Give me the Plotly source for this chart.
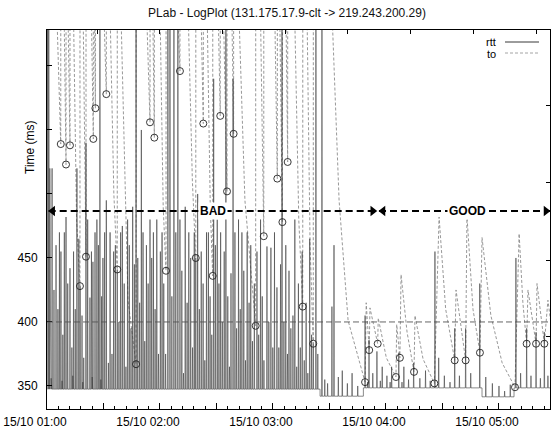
import pandas as pd
import plotly.graph_objects as go

# ---------------- data (minutes after 15/10 01:00, value in ms) ----------------
START = "2008-10-15 01:00:00"
x_range_min = [0.0, 267.1]
y_range_ms = [332.0, 628.1]
SAMPLE_MIN = 0.15          # rtt sampling interval (~10 s)

# rtt spikes: (minute, peak ms)
rtt_spikes_a = [(0.3,700),(0.9,700),(1.5,520),(2.2,356),(2.7,520),(3.7,425),(4.8,460),(5.8,410),(6.6,470),(7.4,455),
                (8.0,354),(8.4,390),(9.2,470),(10.1,482),(11.0,430),(12.2,442),(13.2,380),(13.7,358),(14.1,455),(15.0,410),
                (15.9,520),(16.9,465),(17.6,428),(18.6,405),(19.0,353),(19.5,372),(20.7,540),(21.6,480),(22.8,419),(23.6,455),
                (24.0,357),(24.4,447),(25.5,470),(26.5,480),(27.3,460),(28.1,700),(28.6,355),(29.0,420),(29.7,450)]
rtt_spikes_b = [(30.6,470),(31.5,495),(32.6,368),(33.5,470),(34.5,375),(35.4,455),(36.3,460),(37.3,441),(38.2,400),(39.1,470),
                (40.0,475),(41.0,430),(41.9,365),(42.8,480),(43.7,460),(44.6,395),(45.5,490),(46.4,445),(47.3,700),(48.2,450),
                (49.2,415),(50.1,550),(51.0,470),(51.9,385),(52.8,460),(53.7,430),(54.7,480),(55.6,450),(56.5,470),(57.4,410),
                (58.3,480),(59.2,375)]
rtt_spikes_c = [(60.2,455),(61.1,470),(62.0,430),(63.0,375),(64.2,700),(65.3,700),(66.3,420),(67.4,700),(68.4,470),(69.5,700),
                (70.6,480),(71.6,440),(72.5,360),(73.4,490),(74.4,415),(75.3,470),(76.3,450),(77.3,380),(78.2,470),(79.0,450),
                (80.0,500),(80.9,410),(81.9,455),(82.9,430),(83.8,370),(84.7,470),(85.7,470),(86.6,420),(87.5,390),(88.5,590),
                (89.4,460)]
rtt_spikes_d = [(90.4,480),(91.3,430),(92.2,470),(93.1,400),(94.1,455),(95.0,700),(96.0,420),(96.9,365),(97.7,438),(98.8,590),
                (99.8,470),(100.7,395),(101.7,480),(102.6,410),(103.5,470),(104.5,440),(105.4,370),(106.3,470),(107.3,415),(108.2,460),
                (109.1,385),(110.1,430),(111.5,455),(112.4,390),(113.4,480),(114.3,420),(115.2,370),(116.8,459),(117.8,400),(118.9,458),
                (119.9,380)]
rtt_spikes_e = [(120.8,470),(122.1,427),(123.1,380),(124.0,445),(124.8,700),(125.8,400),(126.8,460),(127.7,375),(128.5,440),(129.5,395),
                (130.6,405),(131.6,480),(132.6,365),(133.5,430),(134.5,380),(135.5,455),(136.6,370),(137.6,415),(138.5,360),(139.5,465),
                (140.5,390),(141.4,383),(142.8,700),(143.8,375)]
rtt_spikes_f = [(146.0,700),(147.5,355),(149.0,352),(151.3,412),(152.4,460),(154.7,357),(156.8,362),(159.5,352),(162.0,360),(165.0,350)]
rtt_spikes_g = [(168.9,405),(170.2,353),(171.0,386),(173.0,360),(175.2,377),(177.0,354),(178.0,365),(180.5,358),(182.2,353),(183.0,365),
                (186.8,376),(188.5,353),(189.5,365),(192.0,355),(194.7,368),(198.0,356),(201.0,362),(203.5,354),(206.0,455),(208.0,372),
                (211.0,358),(214.0,353),(216.5,395),(219.0,358),(222.3,395),(225.0,360),(229.8,430),(233.0,357),(236.5,352),(240.0,350),
                (243.0,346),(246.0,351),(249.0,450),(251.5,360),(254.7,395),(257.0,358),(259.7,392),(262.0,356),(264.1,392),(266.0,358)]

# rtt baseline level per stretch: start minute, end minute, ms
base_start_min = [0.0, 145.0, 168.0, 231.0, 248.0]
base_end_min = [145.0, 168.0, 231.0, 248.0, 267.5]
base_ms = [347.5, 342.0, 348.5, 341.5, 348.5]

# timeout estimate samples: (minute, ms)
to_bad = [(0.1,1400),(5.5,628),(7.3,539),
          (7.4,1300),(9.2,628),(10.1,523),
          (10.2,1300),(11.3,628),(12.2,538),
          (12.3,1300),(14.2,628),(15.7,480),(17.5,428),
          (17.6,1300),(19.3,628),(20.7,451),
          (20.8,1300),(23.7,628),(24.6,543),
          (24.7,1300),(25.3,628),(25.7,567),
          (25.8,1300),(30.5,628),(31.5,578),
          (31.6,1300),(33.7,628),(35.5,500),(37.3,441),
          (37.4,1300),(39.5,628),(43.0,417),(47.3,367),
          (47.4,1300),(53.2,628),(54.7,556),
          (54.8,1300),(56.3,628),(57.0,544),
          (57.1,1300),(60.2,628),(61.7,490),(63.2,440),
          (63.3,1300),(69.9,628),(70.6,596),
          (70.7,1300),(75.2,628),(77.2,510),(79.0,450),
          (79.1,1300),(82.0,628),(83.0,555),
          (83.1,1300),(85.2,628),(86.7,490),(88.0,436),
          (88.1,1300),(91.1,628),(92.0,561),
          (92.1,1300),(93.9,628),(95.6,502),
          (95.7,1300),(98.3,628),(99.1,547),
          (99.2,1300),(102.2,628),(105.1,495),(110.8,397),
          (110.9,1300),(113.5,628),(115.1,467),
          (115.2,1300),(121.1,628),(122.3,512),
          (122.4,1300),(123.7,628),(125.0,478),
          (125.1,1300),(127.0,628),(127.8,525),
          (127.9,1300),(131.7,628),(133.7,480),(135.8,412),
          (135.9,1300),(138.2,628),(139.7,460),(141.4,383),
          (141.5,1500),(151.7,628),(155.1,495),(159.9,401),(168.9,353)]
to_good = [(169.5,415),(171.1,378),(171.5,411),(175.6,383),(175.9,403),(180.2,372),(185.3,357),
           (185.7,398),(187.4,372),(188.0,437),(191.2,392),(194.9,361),(195.4,405),(199.7,371),(205.7,352),
           (208.2,482),(211.7,410),(216.5,370),(217.2,425),(222.3,370),(223.0,483),(226.2,410),(229.9,376),
           (231.0,466),(235.7,405),(241.7,368),(248.5,349),(250.7,469),(252.7,415),(254.7,383),
           (255.4,425),(259.7,383),(260.2,430),(264.1,383),(266.0,417),(267.5,400)]

# timeout events (circles)
circ_min = [7.3,10.1,12.2,17.5,20.7,24.6,25.7,31.5,37.3,47.3,54.7,57.0,63.2,70.6,79.0,83.0,88.0,92.0,95.6,99.1,
            110.8,115.1,122.3,125.0,127.8,135.8,141.4,168.9,171.1,175.6,185.3,187.4,194.9,205.7,216.5,222.3,229.9,
            248.5,254.7,259.7,264.1]
circ_ms = [539,523,538,428,451,543,567,578,441,367,556,544,440,596,450,555,436,561,502,547,
           397,467,512,478,525,412,383,353,378,383,357,372,361,352,370,370,376,
           349,383,383,383]

# periods
period_names = ["BAD", "GOOD"]
period_start_min = [0.9, 176.3]
period_end_min = [175.1, 267.1]
period_label_min = [88.1, 223.5]
period_level_ms = 486.7

# axes ticks
xtick_min = [0, 30, 60, 90, 120, 150, 180, 210, 240]
xtick_text = ["15/10 01:00", "", "15/10 02:00", "", "15/10 03:00", "", "15/10 04:00", "", "15/10 05:00"]
x2tick_min = [26.7, 60.0, 93.3, 126.6, 159.8, 193.1, 226.4, 259.7]
ytick_ms = [350, 400, 450, 500, 550, 600]
ytick_text = ["350", "400", "450", "", "", ""]
y2tick_ms = [388.3, 448.4, 508.6, 568.75]
threshold_ms = 400

# ---------------- figure ----------------
T0 = pd.Timestamp(START)
def to_time(mins):
    return T0 + pd.to_timedelta(list(mins), unit="min")

# rtt polyline: baseline samples around each spike sample
all_spikes = sorted(rtt_spikes_a + rtt_spikes_b + rtt_spikes_c + rtt_spikes_d +
                    rtt_spikes_e + rtt_spikes_f + rtt_spikes_g)
rtt_pts = []
for s, e, b in zip(base_start_min, base_end_min, base_ms):
    rtt_pts.append((s, b))
    for t, v in all_spikes:
        if s <= t < e:
            rtt_pts += [(t - SAMPLE_MIN, b), (t, v), (t + SAMPLE_MIN, b)]
    rtt_pts.append((e, b))

to_pts = to_bad + to_good

FONT = "Liberation Sans, Arial, sans-serif"
fig = go.Figure()

fig.add_trace(go.Scatter(
    x=to_time(p[0] for p in to_pts), y=[p[1] for p in to_pts], mode="lines",
    line=dict(color="#8c8c8c", width=0.9, dash="3px,2px"), name="to", showlegend=False,
    hoverinfo="skip"))
fig.add_trace(go.Scatter(
    x=to_time(p[0] for p in rtt_pts), y=[p[1] for p in rtt_pts], mode="lines",
    line=dict(color="#3c3c3c", width=0.6), name="rtt", showlegend=False, hoverinfo="skip"))
fig.add_trace(go.Scatter(
    x=to_time(circ_min), y=circ_ms, mode="markers",
    marker=dict(symbol="circle-open", size=7, color="#222222", line=dict(width=0.9)),
    showlegend=False, hoverinfo="skip"))

# period arrows: arrowheads (on the overlaying axes, identical ranges)
px_per_min = 503 / (x_range_min[1] - x_range_min[0])
head_off = 4 / px_per_min
head_x, head_sym = [], []
for s, e in zip(period_start_min, period_end_min):
    head_x += [s + head_off, e - head_off]
    head_sym += ["triangle-left", "triangle-right"]
fig.add_trace(go.Scatter(
    x=to_time(head_x), y=[period_level_ms] * len(head_x), mode="markers",
    marker=dict(symbol=head_sym, size=9, color="black", line=dict(width=0)),
    xaxis="x2", yaxis="y2", showlegend=False, hoverinfo="skip", cliponaxis=False))

shapes = [dict(type="line", xref="paper", x0=0, x1=1, yref="y", y0=threshold_ms, y1=threshold_ms,
               line=dict(color="#555555", width=0.9, dash="6px,3px"), layer="above")]
for s, e in zip(period_start_min, period_end_min):
    shapes.append(dict(type="line", xref="x", yref="y", x0=to_time([s])[0], x1=to_time([e])[0],
                       y0=period_level_ms, y1=period_level_ms,
                       line=dict(color="black", width=1.8, dash="7px,4px"), layer="above"))

# legend (gnuplot style: text then sample)
def px(xp): return (xp - 47) / 503
def py(yp): return (409 - yp) / 379
shapes.append(dict(type="line", xref="paper", yref="paper", x0=px(505), x1=px(539), y0=py(42), y1=py(42),
                   line=dict(color="#222222", width=0.9)))
shapes.append(dict(type="line", xref="paper", yref="paper", x0=px(505), x1=px(539), y0=py(53), y1=py(53),
                   line=dict(color="#9a9a9a", width=0.9, dash="3px,2px")))

annotations = [
    dict(text="rtt", xref="paper", yref="paper", x=px(498), y=py(42), xanchor="right", yanchor="middle",
         showarrow=False, font=dict(size=11, color="black", family=FONT)),
    dict(text="to", xref="paper", yref="paper", x=px(498), y=py(54), xanchor="right", yanchor="middle",
         showarrow=False, font=dict(size=11, color="black", family=FONT)),
    dict(text="Time (ms)", xref="paper", yref="paper", x=px(30), y=py(147), textangle=-90,
         xanchor="center", yanchor="middle", showarrow=False, font=dict(size=12, color="black", family=FONT)),
]
for name, lm in zip(period_names, period_label_min):
    annotations.append(dict(text="<b>%s</b>" % name, x=to_time([lm])[0], y=period_level_ms, xref="x", yref="y",
                            showarrow=False, bgcolor="white", borderpad=1,
                            font=dict(size=12, color="black", family=FONT)))

xr = list(to_time(x_range_min))
fig.update_layout(
    width=551, height=432,
    margin=dict(l=47, r=1, t=30, b=23, autoexpand=False),
    paper_bgcolor="white", plot_bgcolor="white",
    font=dict(family=FONT, size=12, color="black"),
    title=dict(text="PLab - LogPlot (131.175.17.9-clt -> 219.243.200.29)", x=287 / 551, xref="container",
               xanchor="center", y=1 - 13 / 432, yanchor="middle", yref="container",
               font=dict(size=12, color="#111111", family=FONT)),
    showlegend=False,
    xaxis=dict(type="date", range=xr, showgrid=False, zeroline=False,
               showline=True, linecolor="black", linewidth=1, mirror=True,
               ticks="inside", ticklen=6, tickcolor="black",
               tickvals=list(to_time(xtick_min)), ticktext=xtick_text,
               ticklabelshift=-12, ticklabelstandoff=2,
               minor=dict(ticks="inside", ticklen=3, tickcolor="black", dtick=6 * 60 * 1000, tick0=START),
               tickfont=dict(size=12, family=FONT)),
    xaxis2=dict(type="date", range=xr, overlaying="x", side="top", anchor="y", showgrid=False, zeroline=False,
                showline=False, ticks="inside", ticklen=4, tickcolor="black",
                tickvals=list(to_time(x2tick_min)), showticklabels=False),
    yaxis=dict(range=y_range_ms, showgrid=False, zeroline=False,
               showline=True, linecolor="black", linewidth=1, mirror=True,
               ticks="inside", ticklen=5, tickcolor="black",
               tickvals=ytick_ms, ticktext=ytick_text, ticklabelstandoff=6,
               tickfont=dict(size=12, family=FONT)),
    yaxis2=dict(range=y_range_ms, overlaying="y", side="right", anchor="x", showgrid=False, zeroline=False,
                showline=False, ticks="inside", ticklen=4, tickcolor="black",
                tickvals=y2tick_ms, showticklabels=False),
    shapes=shapes, annotations=annotations,
)

fig.write_html("out.html", config={"displayModeBar": False},
               post_script="document.body.style.margin='0';document.body.style.overflow='hidden';")
